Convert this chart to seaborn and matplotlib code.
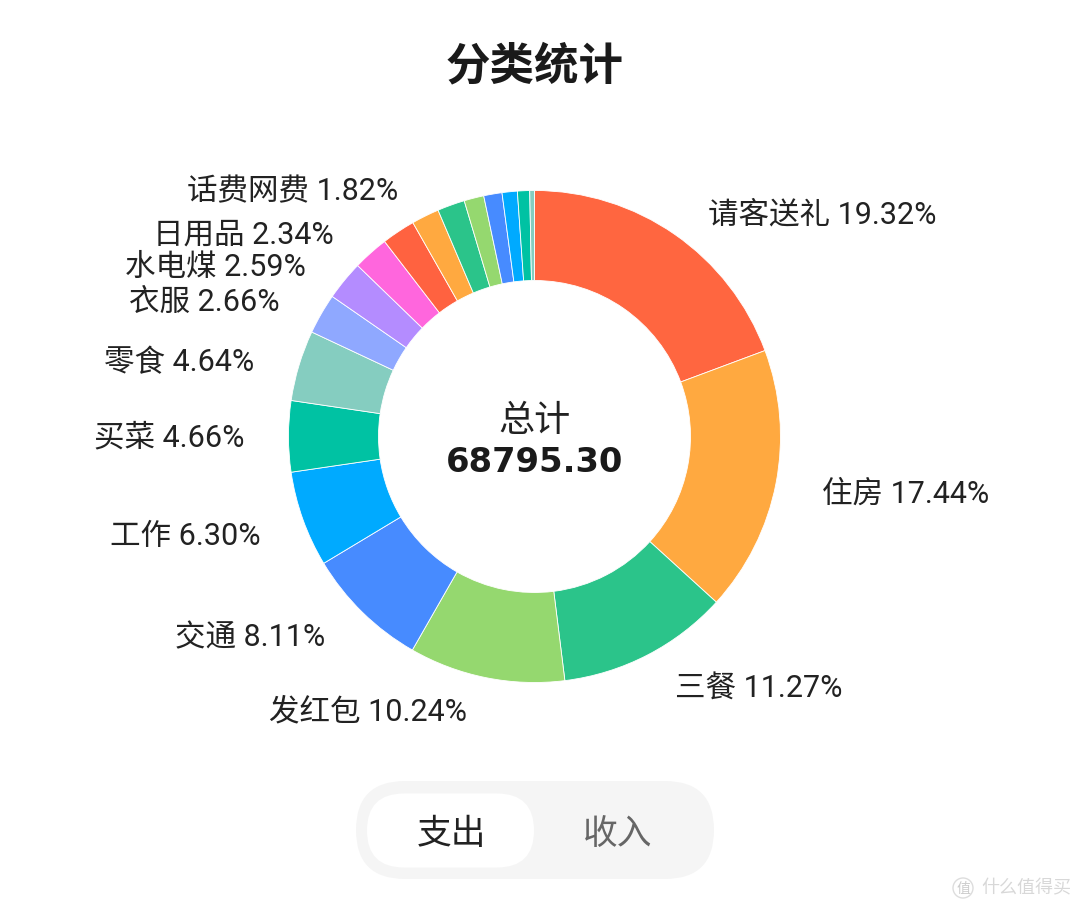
import seaborn as sns
import matplotlib.pyplot as plt
from matplotlib.patches import FancyBboxPatch, Circle

categories = ['请客送礼', '住房', '三餐', '发红包', '交通', '工作', '买菜', '零食', '衣服', '水电煤', '日用品', '',
              '话费网费', '', '', '', '', '', '']
percents = [19.32, 17.44, 11.27, 10.24, 8.11, 6.30, 4.66, 4.64, 2.66, 2.59, 2.34, 2.2,
            1.82, 1.8, 1.3, 1.2, 1.0, 0.8, 0.31]
colors = ['#FF6640', '#FFA940', '#2BC48A', '#95D86F', '#478BFF', '#00AAFF', '#00C2A3', '#85CDC0',
          '#8FA8FF', '#B48CFF', '#FF66DD', '#FF6240', '#FFA940', '#2BC48A', '#95D86F', '#478BFF',
          '#00AAFF', '#00C2A3', '#85CDC0']
total = '68795.30'

# 라벨 겹침 방지용 수동 이동 (px)
label_nudge = [(9, 14), (5, 2), (8, -5), (-11, -8), (-8, -5), (-3, 2), (-2, 1), (-5, 8), (-5, 9), (-6, 13),
               (-9, 12), (0, 0), (-8, 12)]

sns.set_theme(style='white')
plt.rcParams['font.family'] = ['Noto Sans CJK SC', 'DejaVu Sans']
label_font = ['Roboto', 'Noto Sans CJK SC']

W, H = 1080, 912
CX, CY = 534.5, H - 437.5
fig = plt.figure(figsize=(W / 100, H / 100), dpi=100, facecolor='white')
ax = fig.add_axes([0, 0, 1, 1])

labels = [f'{c} {p:.2f}%' if c else '' for c, p in zip(categories, percents)]
wedges, texts = ax.pie(percents, labels=labels, colors=sns.color_palette(colors), startangle=90,
                       counterclock=False, center=(CX, CY), radius=246, labeldistance=1.17,
                       wedgeprops={'width': 90, 'edgecolor': 'white', 'linewidth': 0.6},
                       textprops={'fontsize': 22, 'color': '#222222', 'family': label_font})
ax.set_xlim(0, W)
ax.set_ylim(0, H)
ax.set_aspect('equal')

for t, (dx, dy) in zip(texts, label_nudge):
    x, y = t.get_position()
    t.set_ha('left' if x > CX else 'right')
    t.set_position((x + dx, y - dy))

ax.text(535, H - 66, '分类统计', ha='center', va='center', fontsize=32, fontweight='bold', color='#1a1a1a')
ax.text(535, H - 421, '总计', ha='center', va='center', fontsize=26, color='#222222')
ax.text(535, H - 463, total, ha='center', va='center', fontsize=24.3, fontweight='bold', color='#1a1a1a',
        family='DejaVu Sans')

# 아래 토글 버튼
ax.add_patch(FancyBboxPatch((356 + 49, H - 880 + 49), 358 - 98, 0, boxstyle='round,pad=49',
                            fc='#F5F5F5', ec='none'))
ax.add_patch(FancyBboxPatch((367 + 37, H - 868.5 + 37), 167 - 74, 0, boxstyle='round,pad=37',
                            fc='white', ec='none'))
ax.text(451, H - 835, '支出', ha='center', va='center', fontsize=25, color='#222222')
ax.text(618, H - 835, '收入', ha='center', va='center', fontsize=25, color='#666666')

# 워터마크
ax.add_patch(Circle((963, H - 889), 10, fc='none', ec='#DDDDDD', lw=1))
ax.text(963, H - 889, '值', ha='center', va='center', fontsize=10, color='#CCCCCC')
ax.text(1026, H - 888, '什么值得买', ha='center', va='center', fontsize=13, color='#D8D8D8')

fig.savefig('out.png', dpi=100)
